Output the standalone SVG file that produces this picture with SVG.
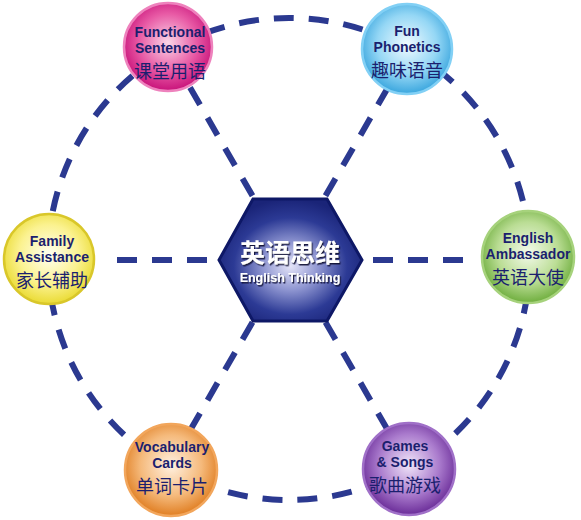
<svg xmlns="http://www.w3.org/2000/svg" width="581" height="520" viewBox="0 0 581 520">
<style>
.dash{fill:none;stroke:#2b3990;stroke-width:6;stroke-dasharray:20 15}
.en{font-family:"Liberation Sans",Arial,sans-serif;font-weight:bold;font-size:14px;fill:#1b1f6e;text-anchor:middle}
.cn{font-family:"Noto Sans CJK SC",sans-serif;font-size:18px;fill:#1b1f6e;text-anchor:middle}
.ct{fill:#fff;text-anchor:middle;font-weight:bold;filter:url(#sh)}
.node{stroke-width:2.5}
</style>
<defs>
<filter id="sh" x="-10%" y="-30%" width="130%" height="170%">
<feDropShadow dx="1.2" dy="1.5" stdDeviation="0.7" flood-color="#111133" flood-opacity="0.9"/>
</filter>
<radialGradient id="gF" cx="50%" cy="45%" r="55%"><stop offset="0" stop-color="#fbd6e8"/><stop offset="0.6" stop-color="#e85aa5"/><stop offset="1" stop-color="#c8127a"/></radialGradient>
<radialGradient id="gP" cx="50%" cy="45%" r="55%"><stop offset="0" stop-color="#f2fbff"/><stop offset="0.6" stop-color="#95d7f5"/><stop offset="1" stop-color="#3aa6de"/></radialGradient>
<radialGradient id="gA" cx="50%" cy="45%" r="55%"><stop offset="0" stop-color="#fffff2"/><stop offset="0.6" stop-color="#fbf290"/><stop offset="1" stop-color="#eadb34"/></radialGradient>
<radialGradient id="gE" cx="50%" cy="45%" r="55%"><stop offset="0" stop-color="#f4faec"/><stop offset="0.6" stop-color="#badd94"/><stop offset="1" stop-color="#6fae3e"/></radialGradient>
<radialGradient id="gV" cx="50%" cy="45%" r="55%"><stop offset="0" stop-color="#fff1e2"/><stop offset="0.6" stop-color="#f5ba7c"/><stop offset="1" stop-color="#e07e22"/></radialGradient>
<radialGradient id="gG" cx="50%" cy="45%" r="55%"><stop offset="0" stop-color="#f1e6f9"/><stop offset="0.6" stop-color="#aa7bcd"/><stop offset="1" stop-color="#6a2c98"/></radialGradient>
<radialGradient id="gH" cx="50%" cy="55%" r="55%"><stop offset="0" stop-color="#e4e4f8"/><stop offset="0.35" stop-color="#9097d2"/><stop offset="0.72" stop-color="#2c3a95"/><stop offset="1" stop-color="#1a2478"/></radialGradient>
</defs>
<g id="connectors">
<circle class="dash" cx="289" cy="259" r="241"/>
<line class="dash" x1="252.5" y1="195.8" x2="190" y2="87.5"/>
<line class="dash" x1="325.5" y1="195.8" x2="388" y2="87.5"/>
<line class="dash" x1="252.5" y1="322.2" x2="190" y2="430.5"/>
<line class="dash" x1="325.5" y1="322.2" x2="388" y2="430.5"/>
<line class="dash" x1="207" y1="260" x2="117" y2="260"/>
<line class="dash" x1="373" y1="260" x2="463" y2="260"/>
</g>
<g id="center">
<polygon points="219,260 253,199 327,199 362,260 327,321 253,321" fill="url(#gH)" stroke="#0e1866" stroke-width="3"/>
<text class="ct" x="290" y="262" font-family="'Noto Sans CJK SC',sans-serif" font-size="25">英语思维</text>
<text class="ct" x="290" y="282" font-family="'Liberation Sans',Arial,sans-serif" font-size="12.5">English Thinking</text>
</g>
<g id="functional">
<circle class="node" cx="168" cy="47" r="44" fill="url(#gF)" stroke="#ee82bd"/>
<text class="en" x="170" y="37">Functional</text>
<text class="en" x="170" y="53">Sentences</text>
<text class="cn" x="170" y="78">课堂用语</text>
</g>
<g id="phonetics">
<circle class="node" cx="407" cy="49" r="45" fill="url(#gP)" stroke="#82d0f5"/>
<text class="en" x="407" y="36">Fun</text>
<text class="en" x="407" y="52">Phonetics</text>
<text class="cn" x="407" y="77">趣味语音</text>
</g>
<g id="family">
<circle class="node" cx="49" cy="259" r="45" fill="url(#gA)" stroke="#d9c72a"/>
<text class="en" x="52" y="246">Family</text>
<text class="en" x="52" y="262">Assistance</text>
<text class="cn" x="52" y="287">家长辅助</text>
</g>
<g id="ambassador">
<circle class="node" cx="528" cy="257" r="46" fill="url(#gE)" stroke="#a6d27c"/>
<text class="en" x="528" y="243">English</text>
<text class="en" x="528" y="259">Ambassador</text>
<text class="cn" x="528" y="284">英语大使</text>
</g>
<g id="vocabulary">
<circle class="node" cx="171" cy="470" r="46" fill="url(#gV)" stroke="#f2a65c"/>
<text class="en" x="172" y="452">Vocabulary</text>
<text class="en" x="172" y="468">Cards</text>
<text class="cn" x="172" y="493">单词卡片</text>
</g>
<g id="games">
<circle class="node" cx="409" cy="469" r="46" fill="url(#gG)" stroke="#a070c8"/>
<text class="en" x="405" y="451">Games</text>
<text class="en" x="405" y="467">&amp; Songs</text>
<text class="cn" x="405" y="492">歌曲游戏</text>
</g>
</svg>
